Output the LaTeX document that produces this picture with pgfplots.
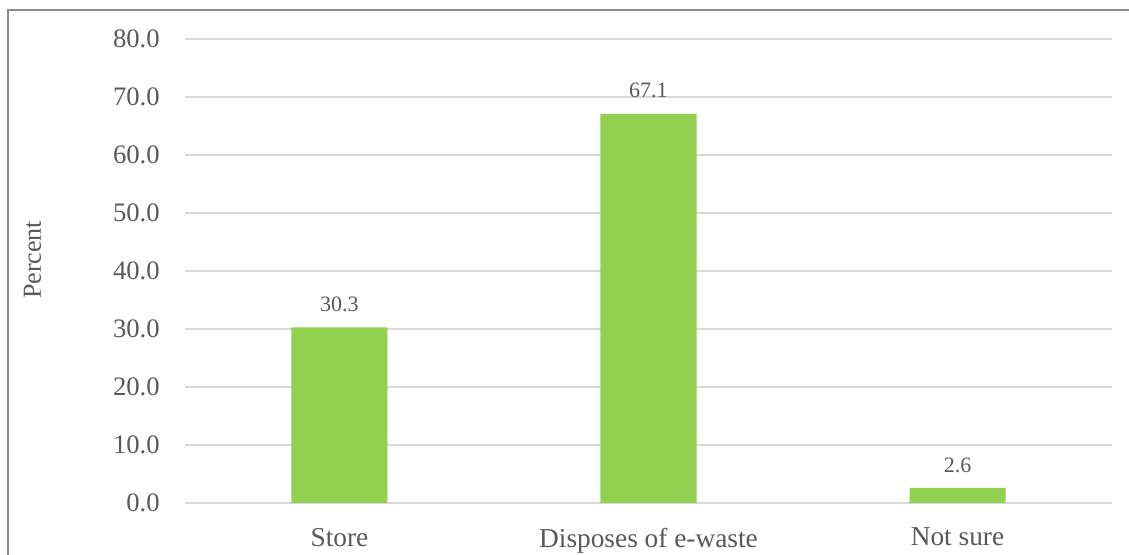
\documentclass[border=0pt]{standalone}
\usepackage{fontspec}
\setmainfont{Liberation Serif}
\usepackage{pgfplots}
\pgfplotsset{compat=1.18}
\definecolor{barGreen}{HTML}{92D050}
\definecolor{txtGray}{HTML}{595959}
\definecolor{gridGray}{HTML}{D9D9D9}
\definecolor{frameGray}{HTML}{8C8C8C}
\begin{document}
\begin{tikzpicture}
% canvas: 1 px = 0.75pt
\clip (0,0) rectangle (846.75pt,415.5pt);
\fill[white] (0,0) rectangle (846.75pt,415.5pt);
\draw[frameGray, line width=1.1pt] (860pt,408pt) -- (6pt,408pt) -- (6pt,-10pt);
\begin{axis}[
  at={(138.75pt,38.25pt)}, anchor=south west,
  scale only axis, width=695.25pt, height=348pt,
  xmin=-0.5, xmax=2.5, ymin=0, ymax=80,
  xtick=data, xticklabels={Store, Disposes of e-waste, Not sure},
  ytick={0,10,...,80},
  ymajorgrids, grid style={gridGray, line width=1pt},
  axis line style={draw=none},
  major tick length=0pt,
  tick style={draw=none},
  /pgf/number format/assume math mode=true,
  yticklabel={\pgfmathprintnumber[fixed, fixed zerofill, precision=1]{\tick}},
  yticklabel style={font=\fontsize{20}{24}\selectfont, text=txtGray, inner sep=0pt, anchor=east, xshift=-18.75pt},
  xticklabel style={font=\fontsize{20.5}{24}\selectfont, text=txtGray, inner sep=0pt, anchor=north, yshift=-18.5pt},
  ylabel={Percent},
  ylabel style={font=\fontsize{19.5}{23}\selectfont, text=txtGray, at={(axis description cs:-0.1645,0.524)}, anchor=center, inner sep=0pt},
  ybar, bar width=72pt,
  nodes near coords,
  nodes near coords style={font=\fontsize{16.5}{20}\selectfont, text=txtGray, inner sep=0pt, anchor=south, yshift=11.5pt,
    /pgf/number format/.cd, fixed, fixed zerofill, precision=1},
]
\addplot[fill=barGreen, draw=none] coordinates {(0,30.3) (1,67.1) (2,2.6)};
\end{axis}
\end{tikzpicture}
\end{document}
